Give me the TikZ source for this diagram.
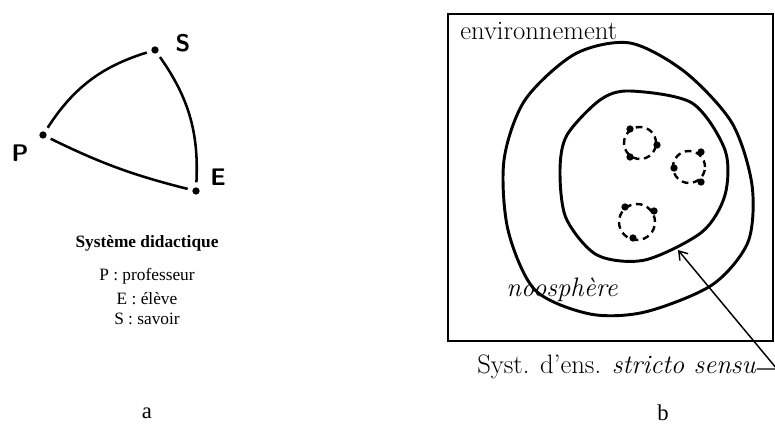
\documentclass[tikz,border=0pt]{standalone}
\usepackage{fontspec}
\newfontfamily\tnr{Liberation Serif}
\usepackage{tikz}
\usetikzlibrary{arrows.meta, positioning, calc}
\tikzset{
  sommet/.style={circle, fill, inner sep=0pt, minimum size=5.5pt},
  lettre/.style={font=\sffamily\bfseries\fontsize{18}{20}\selectfont, inner sep=0pt},
  arete/.style={line width=1.9pt, shorten >=3.5pt, shorten <=3.5pt},
  legende/.style={font=\tnr\fontsize{13}{15}\selectfont, inner sep=0pt},
  scan/.style={font=\fontsize{20}{24}\selectfont, inner sep=0pt},
  courbe/.style={line width=2.2pt},
  micro/.style={line width=1.8pt, dash pattern=on 5pt off 3.5pt},
  grain/.style={circle, fill, inner sep=0pt, minimum size=5.5pt},
  fleche/.style={line width=1.1pt, -{Straight Barb[length=6pt, width=8pt]}},
}

\begin{document}
\begin{tikzpicture}[x=0.75pt, y=0.75pt, node distance=5.5pt]
  \useasboundingbox (0,0) rectangle (775,-434);
  % a : systeme didactique
  \node[sommet] (S) at (155,-50) {};
  \node[sommet] (P) at (43,-135) {};
  \node[sommet] (E) at (196,-191) {};
  \node[lettre] (lS) at (183,-43) {S};
  \node[lettre] (lP) at (20,-153) {P};
  \node[lettre] (lE) at (218,-177) {E};
  \draw[arete] (P) to[bend left=20] (S);
  \draw[arete] (S) to[bend left=19] (E);
  \draw[arete] (P) to[bend right=6] (E);
  \node[legende, font=\tnr\bfseries\fontsize{13}{15}\selectfont] (titre) at (147,-243) {Système didactique};
  \node[legende, below=13pt of titre] (lgP) {P : professeur};
  \node[legende, below=of lgP] (lgE) {E : élève};
  \node[legende, below=of lgE] (lgS) {S : savoir};
  \node[legende, font=\tnr\fontsize{17}{20}\selectfont] (a) at (147,-413) {a};
  % b : systeme d'enseignement
  \draw[courbe] (448,-14) rectangle (773,-341);
  \node[scan, anchor=west] (env) at (460,-31) {environnement};
  \draw[courbe] plot[smooth cycle] coordinates {(630,-43) (685,-72) (732,-123) (752,-185)
    (748,-242) (712,-285) (645,-312) (590,-314) (535,-290) (508,-230) (504,-160) (525,-100) (575,-54)};
  \draw[courbe] plot[smooth cycle] coordinates {(630,-91) (692,-103) (725,-150) (725,-195)
    (702,-232) (645,-260) (597,-255) (566,-218) (560,-170) (567,-135) (600,-100)};
  \node[scan, font=\itshape\fontsize{20}{24}\selectfont] (noo) at (562,-290) {noosphère};
  \foreach \cx/\cy/\r in {640/143/16, 689/167/16, 637/222/18}
    \draw[micro] (\cx,-\cy) circle (\r);
  \foreach \gx/\gy in {630/129, 657/145, 630/157, 701/152, 674/168, 701/182, 625/207, 654/211, 633/238}
    \node[grain] at (\gx,-\gy) {};
  \node[scan, anchor=base west] (sss) at (477,-374) {Syst. d'ens. \textit{stricto sensu}};
  \coordinate (coin) at (777,-369);
  \coordinate (cible) at (678,-250);
  \draw[fleche] (sss.base east) ++(0,5) -- (coin) -- (cible);
  \node[legende, font=\tnr\fontsize{17}{20}\selectfont] (b) at (663,-413) {b};
\end{tikzpicture}
\end{document}
